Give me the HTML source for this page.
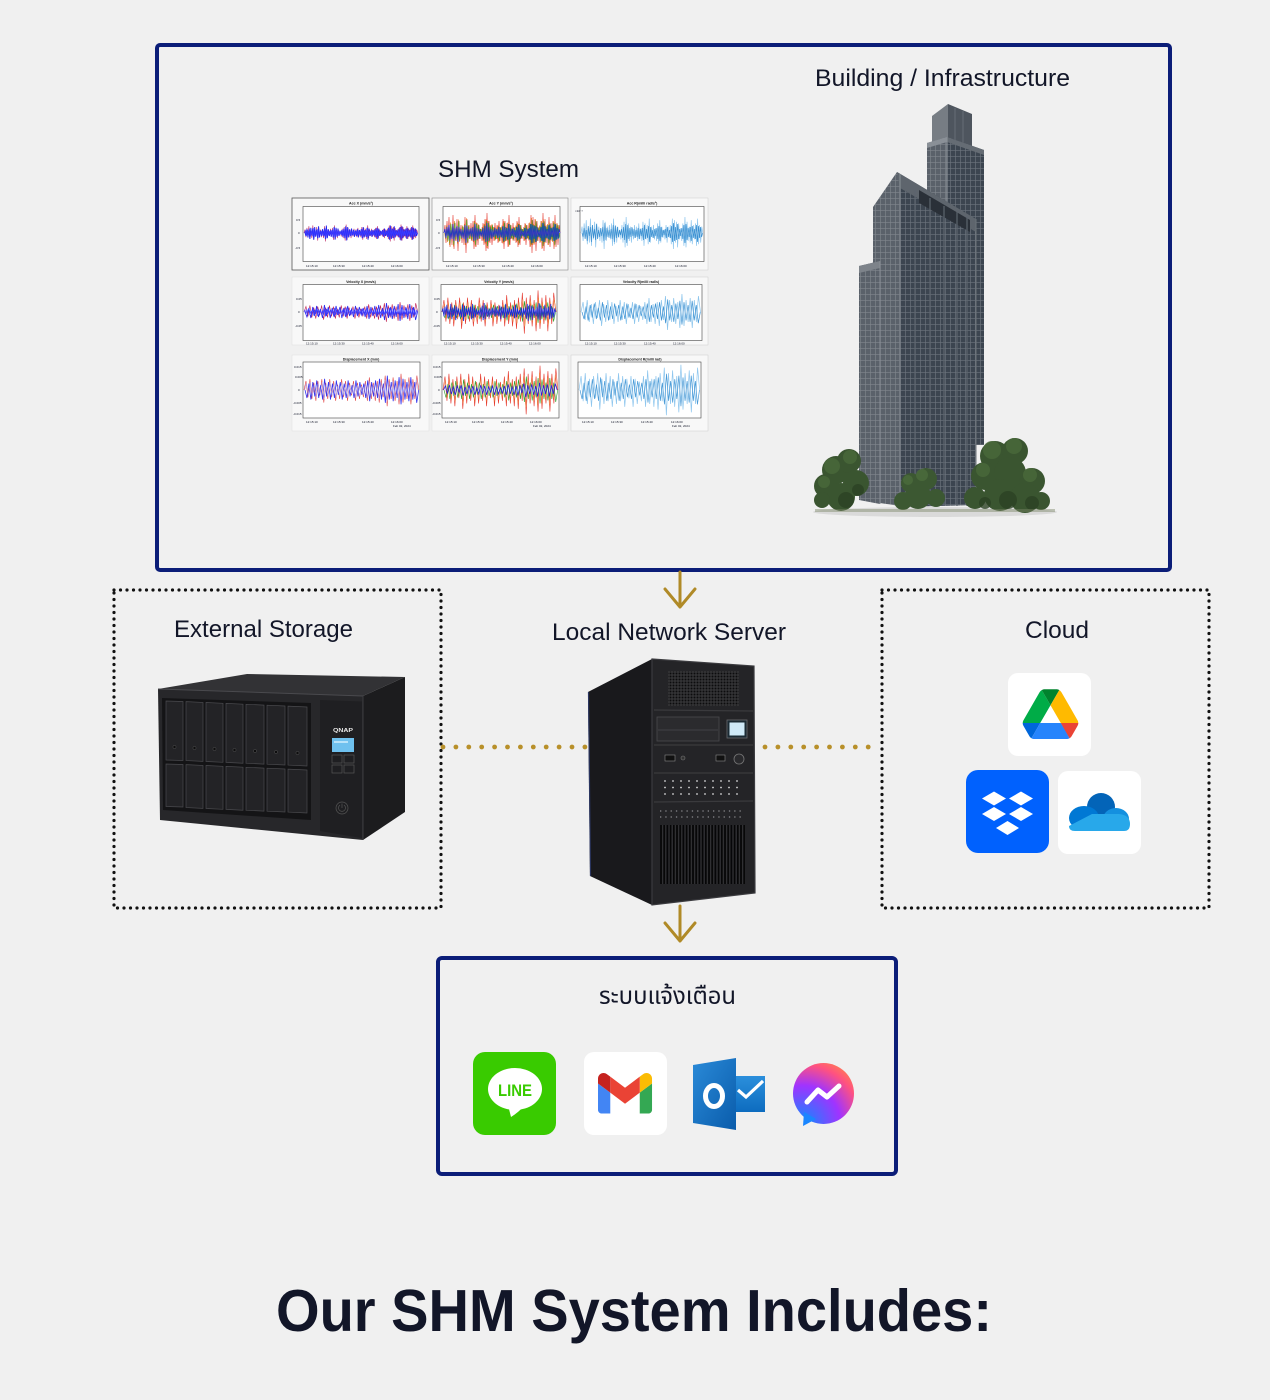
<!DOCTYPE html>
<html><head><meta charset="utf-8"><title>SHM System</title>
<style>
html,body{margin:0;padding:0;background:#f0f0f0;}
svg{display:block}
text{font-family:"Liberation Sans",Arial,sans-serif;fill:#121628}
.th{font-family:"Liberation Sans","Noto Sans Thai","Loma","Garuda","Tlwg Typo","DejaVu Sans",sans-serif}
.t{font-size:3.6px;font-weight:bold;fill:#222;text-anchor:middle}
.k{font-size:3px;fill:#555}
</style></head><body>
<svg width="1270" height="1400" viewBox="0 0 1270 1400" xmlns="http://www.w3.org/2000/svg">
<defs>
<path id="d1" fill="none" vector-effect="non-scaling-stroke" d="M0,0 L1,-4 2,5 3,-6 4,3 5,-8 6,7 7,-3 8,6 9,-9 10,8 11,-5 12,4 13,-7 14,9 15,-6 16,3 17,-4 18,5 19,-3 20,6 21,-8 22,10 23,-7 24,5 25,-4 26,3 27,-5 28,4 29,-6 30,8 31,-9 32,7 33,-5 34,6 35,-4 36,3 37,-2 38,4 39,-5 40,6 41,-7 42,9 43,-10 44,8 45,-6 46,5 47,-4 48,6 49,-3 50,4 51,-5 52,3 53,-4 54,5 55,-6 56,4 57,-3 58,5 59,-7 60,8 61,-6 62,4 63,-5 64,7 65,-9 66,6 67,-4 68,3 69,-5 70,4 71,-3 72,5 73,-6 74,7 75,-8 76,6 77,-4 78,3 79,-2 80,4 81,-5 82,6 83,-4 84,3 85,-5 86,7 87,-9 88,10 89,-8 90,6 91,-7 92,9 93,-6 94,4 95,-3 96,5 97,-6 98,8 99,-10 100,9 101,-7 102,5 103,-4 104,6 105,-8 106,7 107,-5 108,4 109,-6 110,8 111,-9 112,7 113,-5 114,6 115,-4 116,0"/>
<path id="d2" fill="none" vector-effect="non-scaling-stroke" d="M0,0 L2,-5 4,4 6,-6 8,5 10,-4 12,6 14,-5 16,3 18,-6 20,7 22,-4 24,5 26,-6 28,4 30,-5 32,6 34,-3 36,5 38,-6 40,4 42,-5 44,6 46,-4 48,3 50,-5 52,6 54,-4 56,5 58,-3 60,4 62,-5 64,6 66,-7 68,5 70,-4 72,6 74,-5 76,7 78,-6 80,4 82,-8 84,9 86,-6 88,5 90,-7 92,6 94,-5 96,8 98,-9 100,7 102,-6 104,5 106,-7 108,8 110,-6 112,5 114,-8 116,0"/>
<pattern id="win" width="5" height="6" patternUnits="userSpaceOnUse"><rect width="5" height="6" fill="#3c4550"/><path d="M0 0.3H5M0.3 0V6" stroke="#6c747d" stroke-width="0.7"/></pattern>
<pattern id="winL" width="5" height="6" patternUnits="userSpaceOnUse"><rect width="5" height="6" fill="#5a616a"/><path d="M0 0.3H5M0.3 0V6" stroke="#80868d" stroke-width="0.7"/></pattern>
<pattern id="grille" width="3" height="3" patternUnits="userSpaceOnUse"><rect width="3" height="3" fill="#3d3d40"/><rect x="0.5" y="0.5" width="2" height="2" fill="#0c0c0d"/></pattern>
<pattern id="vent" width="3.2" height="80" patternUnits="userSpaceOnUse"><rect width="3.2" height="80" fill="#303033"/><rect x="0.9" width="1.8" height="80" fill="#060607"/></pattern>
<radialGradient id="msg" cx="0.15" cy="1" r="1.15"><stop offset="0" stop-color="#0a8dff"/><stop offset="0.55" stop-color="#a033ff"/><stop offset="0.85" stop-color="#ff5280"/><stop offset="1" stop-color="#ff7a55"/></radialGradient>
<linearGradient id="ol" x1="0" y1="0" x2="1" y2="1"><stop offset="0" stop-color="#2a8ad8"/><stop offset="1" stop-color="#0a5cab"/></linearGradient>
<linearGradient id="olb" x1="0" y1="0" x2="0" y2="1"><stop offset="0" stop-color="#2b8fdc"/><stop offset="1" stop-color="#0d6cbf"/></linearGradient>
</defs>
<rect width="1270" height="1400" fill="#f0f0f0"/>

<!-- Top box -->
<rect x="157" y="45" width="1013" height="525" rx="3" fill="none" stroke="#0b1d78" stroke-width="4"/>
<text x="815" y="86" font-size="24.5" textLength="255" lengthAdjust="spacingAndGlyphs">Building / Infrastructure</text>
<text x="438" y="177" font-size="24.5" textLength="141" lengthAdjust="spacingAndGlyphs">SHM System</text>

<!-- Charts -->
<g>
<rect x="292" y="198" width="137" height="72" fill="#f8f8f8" stroke="#555" stroke-width="0.8"/>
<rect x="432" y="198" width="136" height="72" fill="#f8f8f8" stroke="#888" stroke-width="0.6"/>
<rect x="571" y="198" width="137" height="72" fill="#f8f8f8" stroke="#ccc" stroke-width="0.5"/>
<rect x="292" y="277" width="137" height="68" fill="#f8f8f8" stroke="#ddd" stroke-width="0.5"/>
<rect x="432" y="277" width="136" height="68" fill="#f8f8f8" stroke="#ddd" stroke-width="0.5"/>
<rect x="571" y="277" width="137" height="68" fill="#f8f8f8" stroke="#ccc" stroke-width="0.5"/>
<rect x="292" y="355" width="137" height="76" fill="#f8f8f8" stroke="#ddd" stroke-width="0.5"/>
<rect x="432" y="355" width="136" height="76" fill="#f8f8f8" stroke="#ddd" stroke-width="0.5"/>
<rect x="571" y="355" width="137" height="76" fill="#f8f8f8" stroke="#ccc" stroke-width="0.5"/>

<rect x="303" y="206.5" width="116" height="55" fill="#fff" stroke="#444" stroke-width="0.6"/>
<rect x="443" y="206.5" width="117" height="55" fill="#fff" stroke="#444" stroke-width="0.6"/>
<rect x="580" y="206.5" width="124" height="55" fill="#fff" stroke="#444" stroke-width="0.6"/>
<rect x="303" y="284.5" width="116" height="56" fill="#fff" stroke="#444" stroke-width="0.6"/>
<rect x="441" y="284.5" width="116" height="56" fill="#fff" stroke="#444" stroke-width="0.6"/>
<rect x="580" y="284.5" width="122" height="56" fill="#fff" stroke="#444" stroke-width="0.6"/>
<rect x="303" y="362" width="117" height="56" fill="#fff" stroke="#444" stroke-width="0.6"/>
<rect x="442" y="362" width="117" height="56" fill="#fff" stroke="#444" stroke-width="0.6"/>
<rect x="578" y="362" width="123" height="56" fill="#fff" stroke="#444" stroke-width="0.6"/>

<text class="t" x="361" y="204.5">Acc X (mm/s²)</text>
<text class="t" x="501" y="204.5">Acc Y (mm/s²)</text>
<text class="t" x="642" y="204.5">Acc R(milli rad/s²)</text>
<text class="t" x="361" y="282.8">Velocity X (mm/s)</text>
<text class="t" x="499" y="282.8">Velocity Y (mm/s)</text>
<text class="t" x="641" y="282.8">Velocity R(milli rad/s)</text>
<text class="t" x="361" y="360.3">Displacement X (mm)</text>
<text class="t" x="500" y="360.3">Displacement Y (mm)</text>
<text class="t" x="640" y="360.3">Displacement R(milli rad)</text>

<!-- waves row1 -->
<use href="#d1" transform="translate(304,233) scale(0.98,0.85)" stroke="#c0306a" stroke-width="0.6"/>
<use href="#d1" transform="translate(305,233) scale(0.97,-0.75)" stroke="#2424ee" stroke-width="0.9"/>
<use href="#d1" transform="translate(304.5,233) scale(0.97,0.55)" stroke="#3a3aff" stroke-width="0.8"/>

<use href="#d1" transform="translate(444,233) scale(1,2.0)" stroke="#e5392f" stroke-width="0.6"/>
<use href="#d1" transform="translate(444.5,233) scale(0.99,-1.5)" stroke="#f08a2a" stroke-width="0.5"/>
<use href="#d1" transform="translate(445,233) scale(0.99,-1.3)" stroke="#2ca02c" stroke-width="0.6"/>
<use href="#d1" transform="translate(444,233) scale(1,1.0)" stroke="#1f28d8" stroke-width="0.8"/>

<use href="#d1" transform="translate(581,233) scale(1.05,1.6)" stroke="#8ec6ee" stroke-width="0.7"/>
<use href="#d1" transform="translate(582,233) scale(1.04,-1.0)" stroke="#3a8fd0" stroke-width="0.7"/>

<!-- waves row2 -->
<use href="#d2" transform="translate(304,312) scale(0.98,1.1)" stroke="#c02050" stroke-width="0.6"/>
<use href="#d2" transform="translate(305,312) scale(0.97,-1)" stroke="#2a2af0" stroke-width="0.8"/>
<use href="#d1" transform="translate(304,312) scale(0.98,0.45)" stroke="#3b3bff" stroke-width="0.7"/>

<use href="#d2" transform="translate(442,312) scale(0.98,2.4)" stroke="#e5392f" stroke-width="0.6"/>
<use href="#d2" transform="translate(442.5,312) scale(0.98,1.6)" stroke="#ef7b2b" stroke-width="0.5"/>
<use href="#d2" transform="translate(443,312) scale(0.97,-1.2)" stroke="#2ca02c" stroke-width="0.6"/>
<use href="#d1" transform="translate(442,312) scale(0.98,0.9)" stroke="#1f28d8" stroke-width="0.8"/>

<use href="#d2" transform="translate(581,312) scale(1.03,2.0)" stroke="#8cc5ec" stroke-width="0.7"/>
<use href="#d2" transform="translate(582,312) scale(1.02,-1.4)" stroke="#3f93d3" stroke-width="0.7"/>

<!-- waves row3 -->
<use href="#d2" transform="translate(304,390) scale(0.99,1.8)" stroke="#e04444" stroke-width="0.6"/>
<use href="#d2" transform="translate(305,390) scale(0.98,-1.6)" stroke="#3535ee" stroke-width="0.8"/>
<use href="#d2" transform="translate(304.5,390) scale(0.98,1.3)" stroke="#b4a0e0" stroke-width="0.6"/>

<use href="#d2" transform="translate(443,390) scale(0.99,2.7)" stroke="#e5392f" stroke-width="0.6"/>
<use href="#d2" transform="translate(444,390) scale(0.98,-1.5)" stroke="#2ca02c" stroke-width="0.6"/>
<use href="#d2" transform="translate(443.5,390) scale(0.98,1.9)" stroke="#ef7b2b" stroke-width="0.4"/>
<use href="#d2" transform="translate(443.5,390) scale(0.98,0.8)" stroke="#2323e0" stroke-width="0.8"/>

<use href="#d2" transform="translate(579,390) scale(1.04,2.8)" stroke="#8ec6ee" stroke-width="0.7"/>
<use href="#d2" transform="translate(580,390) scale(1.03,-1.8)" stroke="#4a9ad6" stroke-width="0.7"/>

<!-- tick labels -->
<g class="k">
<text x="296" y="221">0.5</text><text x="298" y="234">0</text><text x="295" y="249">-0.5</text>
<text x="436" y="221">0.5</text><text x="438" y="234">0</text><text x="435" y="249">-0.5</text>
<text x="575" y="212">×10⁻³</text>
<text x="296" y="300">0.05</text><text x="298" y="313">0</text><text x="295" y="327">-0.05</text>
<text x="434" y="300">0.05</text><text x="436" y="313">0</text><text x="433" y="327">-0.05</text>
<text x="294" y="368">0.015</text><text x="295" y="378">0.005</text><text x="298" y="391">0</text><text x="293" y="404">-0.005</text><text x="293" y="415">-0.015</text>
<text x="433" y="368">0.015</text><text x="434" y="378">0.005</text><text x="438" y="391">0</text><text x="432" y="404">-0.005</text><text x="432" y="415">-0.015</text>
<text x="306" y="267">12:15:10</text><text x="333" y="267">12:15:30</text><text x="362" y="267">12:15:40</text><text x="391" y="267">12:16:00</text>
<text x="446" y="267">12:15:10</text><text x="473" y="267">12:15:30</text><text x="502" y="267">12:15:40</text><text x="531" y="267">12:16:00</text>
<text x="585" y="267">12:15:10</text><text x="614" y="267">12:15:30</text><text x="644" y="267">12:15:40</text><text x="675" y="267">12:16:00</text>
<text x="306" y="344.5">12:15:10</text><text x="333" y="344.5">12:15:30</text><text x="362" y="344.5">12:15:40</text><text x="391" y="344.5">12:16:00</text>
<text x="444" y="344.5">12:15:10</text><text x="471" y="344.5">12:15:30</text><text x="500" y="344.5">12:15:40</text><text x="529" y="344.5">12:16:00</text>
<text x="585" y="344.5">12:15:10</text><text x="614" y="344.5">12:15:30</text><text x="644" y="344.5">12:15:40</text><text x="673" y="344.5">12:16:00</text>
<text x="306" y="423">12:15:10</text><text x="333" y="423">12:15:30</text><text x="362" y="423">12:15:40</text><text x="391" y="423">12:16:00</text><text x="393" y="427">Feb 02, 2024</text>
<text x="445" y="423">12:15:10</text><text x="472" y="423">12:15:30</text><text x="501" y="423">12:15:40</text><text x="530" y="423">12:16:00</text><text x="533" y="427">Feb 02, 2024</text>
<text x="582" y="423">12:15:10</text><text x="611" y="423">12:15:30</text><text x="641" y="423">12:15:40</text><text x="671" y="423">12:16:00</text><text x="672" y="427">Feb 02, 2024</text>
</g>
</g>

<!-- Building -->
<g>
<ellipse cx="935" cy="512" rx="122" ry="5" fill="#dadada"/>
<!-- spire cap -->
<polygon points="932,116 948,104 948,146 932,150" fill="#777d84"/>
<polygon points="948,104 972,114 972,152 948,146" fill="#4e555e"/>
<line x1="955" y1="108" x2="955" y2="148" stroke="#666d75" stroke-width="1"/>
<line x1="963" y1="111" x2="963" y2="150" stroke="#666d75" stroke-width="1"/>
<!-- spire body -->
<polygon points="927,143 947,137 947,445 927,445" fill="url(#winL)"/>
<polygon points="947,137 984,150 984,445 947,445" fill="url(#win)"/>
<polygon points="927,143 947,137 947,142 927,148" fill="#8a9097"/>
<polygon points="947,137 984,150 984,155 947,142" fill="#656c74"/>
<line x1="947" y1="137" x2="947" y2="445" stroke="#8a9097" stroke-width="1.2"/>
<!-- main block -->
<polygon points="873,207 897,172 900,174 900,506 873,502" fill="url(#winL)"/>
<polygon points="897,172 976,219 976,505 900,507 900,174" fill="url(#win)"/>
<polygon points="897,172 976,219 976,232 900,188" fill="#5e656d"/>
<polygon points="919,190 970,220 970,232 919,203" fill="#2a3038"/>
<line x1="900" y1="174" x2="900" y2="507" stroke="#7c838a" stroke-width="1.5"/>
<g stroke="#5d656e" stroke-width="1.2">
<line x1="915" y1="190" x2="915" y2="506"/><line x1="930" y1="198" x2="930" y2="506"/><line x1="944" y1="206" x2="944" y2="506"/><line x1="957" y1="212" x2="957" y2="506"/><line x1="967" y1="216" x2="967" y2="506"/>
</g>
<line x1="976" y1="219" x2="976" y2="505" stroke="#6b7279" stroke-width="1"/>
<!-- wing -->
<polygon points="859,266 880,261 880,504 859,500" fill="url(#winL)"/>
<polygon points="859,266 880,261 880,268 859,273" fill="#7d838a"/>
<line x1="880" y1="261" x2="880" y2="504" stroke="#8a9097" stroke-width="1"/>
<!-- trees left -->
<g fill="#3a5530">
<circle cx="836" cy="470" r="14"/><circle cx="849" cy="461" r="12"/><circle cx="826" cy="486" r="12"/><circle cx="856" cy="483" r="13"/><circle cx="841" cy="497" r="14"/><circle cx="822" cy="500" r="8"/>
</g>
<g fill="#4a6a3a" opacity="0.8"><circle cx="832" cy="466" r="8"/><circle cx="850" cy="457" r="7"/><circle cx="824" cy="482" r="6"/></g>
<g fill="#2c4224" opacity="0.8"><circle cx="846" cy="500" r="8"/><circle cx="858" cy="490" r="6"/></g>
<!-- trees middle -->
<g fill="#3c5832"><circle cx="911" cy="483" r="10"/><circle cx="926" cy="479" r="11"/><circle cx="918" cy="496" r="13"/><circle cx="903" cy="501" r="9"/><circle cx="936" cy="498" r="9"/></g>
<g fill="#4c6c3c" opacity="0.8"><circle cx="922" cy="475" r="6"/><circle cx="908" cy="480" r="5"/></g>
<!-- trees right -->
<g fill="#3a5530"><circle cx="995" cy="456" r="15"/><circle cx="1015" cy="451" r="13"/><circle cx="985" cy="476" r="14"/><circle cx="1010" cy="473" r="16"/><circle cx="1032" cy="481" r="13"/><circle cx="1000" cy="495" r="16"/><circle cx="1025" cy="498" r="15"/><circle cx="975" cy="498" r="11"/><circle cx="1041" cy="501" r="9"/></g>
<g fill="#4a6a3a" opacity="0.8"><circle cx="992" cy="450" r="9"/><circle cx="1014" cy="446" r="8"/><circle cx="983" cy="470" r="7"/><circle cx="1030" cy="475" r="7"/></g>
<g fill="#2c4224" opacity="0.8"><circle cx="1008" cy="500" r="9"/><circle cx="1032" cy="503" r="7"/><circle cx="985" cy="503" r="6"/></g>
<rect x="815" y="509" width="240" height="3" fill="#7a8466" opacity="0.45"/>
</g>

<!-- Arrows -->
<path d="M680,572 V607 M665,589 L680,607 L695,589" fill="none" stroke="#b08a27" stroke-width="3" stroke-linecap="round" stroke-linejoin="round"/>
<path d="M680,906 V941 M665,923 L680,941 L695,923" fill="none" stroke="#b08a27" stroke-width="3" stroke-linecap="round" stroke-linejoin="round"/>

<!-- Dotted boxes -->
<rect x="114" y="590" width="327" height="318" fill="none" stroke="#111" stroke-width="3.2" stroke-dasharray="0 6.5" stroke-linecap="round"/>
<rect x="882" y="590" width="327" height="318" fill="none" stroke="#111" stroke-width="3.2" stroke-dasharray="0 6.5" stroke-linecap="round"/>
<text x="174" y="637" font-size="24.5" textLength="179" lengthAdjust="spacingAndGlyphs">External Storage</text>
<text x="552" y="640" font-size="24.5" textLength="234" lengthAdjust="spacingAndGlyphs">Local Network Server</text>
<text x="1025" y="638" font-size="24.5" textLength="64" lengthAdjust="spacingAndGlyphs">Cloud</text>

<!-- gold dotted connectors -->
<line x1="443" y1="747" x2="586" y2="747" stroke="#b8902a" stroke-width="4.8" stroke-dasharray="0 12.9" stroke-linecap="round"/>
<line x1="765" y1="747" x2="881" y2="747" stroke="#b8902a" stroke-width="4.8" stroke-dasharray="0 12.9" stroke-linecap="round"/>

<!-- NAS -->
<g>
<polygon points="158,689 247,674 405,677 363,696" fill="#323235"/>
<polygon points="363,696 405,677 405,812 363,840" fill="#1c1c1e"/>
<polygon points="158,689 363,696 363,840 160,820" fill="#27272a"/>
<line x1="158" y1="689" x2="363" y2="696" stroke="#4a4a4e" stroke-width="1"/>
<line x1="363" y1="696" x2="363" y2="840" stroke="#3c3c40" stroke-width="1"/>
<polygon points="162,698 311,703 311,820 163,810" fill="#141416"/>
<g fill="#232326" stroke="#4a4a4e" stroke-width="0.7">
<polygon points="166,701 183,701.5 183,760.5 166,760"/>
<polygon points="186,701.6 203,702.4 203,761.4 186,760.6"/>
<polygon points="206,702.5 223,703.3 223,762.3 206,761.5"/>
<polygon points="226,703.4 243,704.2 243,763.2 226,762.4"/>
<polygon points="246,704.3 264,705.1 264,764.1 246,763.3"/>
<polygon points="267,705.2 285,706 285,765 267,764.2"/>
<polygon points="288,706.1 307,707 307,766 288,765.1"/>
<polygon points="166,764 183,764.5 183,807 166,806.5"/>
<polygon points="186,764.6 203,765.4 203,808.4 186,807.6"/>
<polygon points="206,765.5 223,766.3 223,809.3 206,808.5"/>
<polygon points="226,766.4 243,767.2 243,810.2 226,809.4"/>
<polygon points="246,767.3 264,768.1 264,811.1 246,810.3"/>
<polygon points="267,768.2 285,769 285,812 267,811.2"/>
<polygon points="288,769.1 307,770 307,813 288,812.1"/>
</g>
<g fill="#0d0d0e" stroke="#555" stroke-width="0.5">
<circle cx="174.5" cy="747" r="1.6"/><circle cx="194.5" cy="748" r="1.6"/><circle cx="214.5" cy="749" r="1.6"/><circle cx="234.5" cy="750" r="1.6"/><circle cx="255" cy="751" r="1.6"/><circle cx="276" cy="752" r="1.6"/><circle cx="297.5" cy="753" r="1.6"/>
</g>
<polygon points="320,700 362,701.5 362,838 320,831" fill="#1f1f22"/>
<text x="333" y="732" font-size="5.5" font-weight="bold" style="fill:#e8e8e8" textLength="20" lengthAdjust="spacingAndGlyphs">QNAP</text>
<rect x="332" y="738" width="22" height="14" fill="#6fc1ef"/>
<rect x="334" y="741" width="14" height="2" fill="#b8e3fa"/>
<g fill="none" stroke="#555" stroke-width="0.7">
<rect x="332" y="755" width="10" height="8"/><rect x="344" y="755" width="10" height="8"/><rect x="332" y="765" width="10" height="8"/><rect x="344" y="765" width="10" height="8"/>
<circle cx="342" cy="808" r="6"/>
<path d="M340,805 A3.5,3.5 0 1 0 344,805 M342,803.5 V808"/>
</g>
</g>

<!-- Server -->
<g>
<polygon points="588,692 652,659 652,905 590,876" fill="#19191c"/>
<line x1="588.5" y1="692" x2="590.5" y2="876" stroke="#2a3560" stroke-width="1.2"/>
<polygon points="652,659 754,666 755,893 652,905" fill="#242427"/>
<polygon points="652,659 754,666 755,893 652,905" fill="none" stroke="#3b3b3f" stroke-width="1.2"/>
<rect x="668" y="671" width="71" height="35" fill="url(#grille)"/>
<g stroke="#3a3a3d" stroke-width="1.2">
<line x1="654" y1="710" x2="753" y2="711"/><line x1="654" y1="745" x2="753" y2="745"/><line x1="654" y1="773" x2="753" y2="773"/><line x1="654" y1="802" x2="753" y2="801"/>
</g>
<rect x="657" y="717" width="62" height="24" fill="#2b2b2e" stroke="#4a4a4e" stroke-width="0.8"/>
<line x1="658" y1="730" x2="718" y2="730" stroke="#4a4a4e" stroke-width="0.8"/>
<rect x="727" y="720" width="20" height="18" fill="#1b2a33" stroke="#6a6a6e" stroke-width="0.8"/>
<rect x="729.5" y="722.5" width="15" height="13" fill="#cfe9f7"/>
<rect x="665" y="755" width="10" height="6" fill="#111" stroke="#888" stroke-width="0.6"/>
<circle cx="683" cy="758" r="2" fill="#333" stroke="#777" stroke-width="0.6"/>
<rect x="716" y="755" width="9" height="6" fill="#111" stroke="#888" stroke-width="0.6"/>
<circle cx="739" cy="759" r="5" fill="#2a2a2d" stroke="#777" stroke-width="0.8"/>
<g fill="#d8d8d8">
<circle cx="665" cy="781" r="0.9"/><circle cx="673" cy="781" r="0.9"/><circle cx="681" cy="781" r="0.9"/><circle cx="689" cy="781" r="0.9"/><circle cx="697" cy="781" r="0.9"/><circle cx="705" cy="781" r="0.9"/><circle cx="713" cy="781" r="0.9"/><circle cx="721" cy="781" r="0.9"/><circle cx="729" cy="781" r="0.9"/><circle cx="737" cy="781" r="0.9"/>
<circle cx="665" cy="787.5" r="0.9"/><circle cx="673" cy="787.5" r="0.9"/><circle cx="681" cy="787.5" r="0.9"/><circle cx="689" cy="787.5" r="0.9"/><circle cx="697" cy="787.5" r="0.9"/><circle cx="705" cy="787.5" r="0.9"/><circle cx="713" cy="787.5" r="0.9"/><circle cx="721" cy="787.5" r="0.9"/><circle cx="729" cy="787.5" r="0.9"/><circle cx="737" cy="787.5" r="0.9"/>
<circle cx="665" cy="794" r="0.9"/><circle cx="673" cy="794" r="0.9"/><circle cx="681" cy="794" r="0.9"/><circle cx="689" cy="794" r="0.9"/><circle cx="697" cy="794" r="0.9"/><circle cx="705" cy="794" r="0.9"/><circle cx="713" cy="794" r="0.9"/><circle cx="721" cy="794" r="0.9"/><circle cx="729" cy="794" r="0.9"/><circle cx="737" cy="794" r="0.9"/>
</g>
<line x1="660" y1="811" x2="744" y2="811" stroke="#8a8a8e" stroke-width="1.3" stroke-dasharray="1.3 4"/>
<line x1="660" y1="817" x2="744" y2="817" stroke="#8a8a8e" stroke-width="1.3" stroke-dasharray="1.3 4"/>
<rect x="660" y="825" width="85" height="59" fill="url(#vent)"/>
</g>

<!-- Cloud icons -->
<rect x="1008" y="673" width="83" height="83" rx="10" fill="#ffffff"/>
<g transform="translate(1022.7,689.3) scale(0.637)">
<path d="m6.6 66.85 3.850 6.65c.8 1.4 1.950 2.5 3.3 3.3l13.75-23.8h-27.5c0 1.55.4 3.1 1.2 4.5z" fill="#0066da"/>
<path d="m43.65 25-13.75-23.8c-1.35.8-2.5 1.9-3.3 3.3l-25.4 44a9.06 9.06 0 0 0 -1.2 4.5h27.5z" fill="#00ac47"/>
<path d="m73.55 76.8c1.35-.8 2.5-1.9 3.3-3.3l1.6-2.75 7.65-13.25c.8-1.4 1.2-2.95 1.2-4.5h-27.502l5.852 11.5z" fill="#ea4335"/>
<path d="m43.65 25 13.75-23.8c-1.35-.8-2.9-1.2-4.5-1.2h-18.5c-1.6 0-3.15.45-4.5 1.2z" fill="#00832d"/>
<path d="m59.8 53h-32.3l-13.75 23.8c1.35.8 2.9 1.2 4.5 1.2h50.8c1.6 0 3.15-.45 4.5-1.2z" fill="#2684fc"/>
<path d="m73.4 26.5-12.7-22c-.8-1.4-1.95-2.5-3.3-3.3l-13.75 23.8 16.15 28h27.45c0-1.55-.4-3.1-1.2-4.5z" fill="#ffba00"/>
</g>
<rect x="966" y="770" width="83" height="83" rx="12" fill="#0061fe"/>
<g fill="#ffffff">
<polygon points="982,798.5 994,791.5 1006,798.5 994,805.5"/>
<polygon points="1009,798.5 1021,791.5 1033,798.5 1021,805.5"/>
<polygon points="982,814 994,807 1006,814 994,821"/>
<polygon points="1009,814 1021,807 1033,814 1021,821"/>
<polygon points="996,828 1007.5,821 1019,828 1007.5,835"/>
</g>
<rect x="1058" y="771" width="83" height="83" rx="10" fill="#ffffff"/>
<circle cx="1101" cy="807" r="14" fill="#0364b8"/>
<ellipse cx="1084" cy="818" rx="15" ry="12" fill="#0078d4"/>
<ellipse cx="1116" cy="819" rx="13" ry="11" fill="#1490df"/>
<path d="M1069,826 Q1069,831 1075,831 L1124,831 Q1130,831 1130,824 Q1130,815 1119,814 L1092,814 Z" fill="#28a8ea"/>

<!-- Notification box -->
<rect x="438" y="958" width="458" height="216" rx="4" fill="none" stroke="#0b1d78" stroke-width="4"/>
<text class="th" x="599" y="1004" font-size="24" textLength="137" lengthAdjust="spacingAndGlyphs">ระบบแจ้งเตือน</text>

<!-- LINE -->
<rect x="473" y="1052" width="83" height="83" rx="12" fill="#39cb00"/>
<ellipse cx="515" cy="1089" rx="27" ry="21" fill="#ffffff"/>
<path d="M508,1105 L511,1117 Q519,1112 525,1105 Z" fill="#ffffff"/>
<text x="515" y="1096" font-size="17" font-weight="bold" text-anchor="middle" style="fill:#39cb00" textLength="34" lengthAdjust="spacingAndGlyphs">LINE</text>

<!-- Gmail -->
<rect x="584" y="1052" width="83" height="83" rx="10" fill="#ffffff"/>
<g transform="translate(598,1073) scale(0.614) translate(-52,-42)">
<path fill="#4285f4" d="M58 108h14V74L52 59v43c0 3.32 2.69 6 6 6"/>
<path fill="#34a853" d="M120 108h14c3.32 0 6-2.69 6-6V59l-20 15"/>
<path fill="#fbbc04" d="M120 48v26l20-15v-8c0-7.42-8.47-11.65-14.4-7.2"/>
<path fill="#ea4335" d="M72 74V48l24 18 24-18v26L96 92"/>
<path fill="#c5221f" d="M52 51v8l20 15V48l-5.6-4.2c-5.94-4.45-14.4-.22-14.4 7.2"/>
</g>

<!-- Outlook -->
<rect x="735" y="1076" width="30" height="36" fill="url(#olb)"/>
<path d="M738,1090 L746,1097 L763,1081" fill="none" stroke="#ffffff" stroke-width="3.2" stroke-linejoin="miter"/>
<polygon points="693,1065 736,1058 736,1130 693,1123" fill="url(#ol)"/>
<ellipse cx="714" cy="1096" rx="8.5" ry="10.5" fill="none" stroke="#ffffff" stroke-width="5"/>

<!-- Messenger -->
<circle cx="823.5" cy="1093.5" r="30.5" fill="url(#msg)"/>
<path d="M804,1112 L803,1126 L816,1119 Z" fill="#1a86ff"/>
<polyline points="807,1102 818,1090 827,1097 839,1086" fill="none" stroke="#ffffff" stroke-width="5" stroke-linejoin="round" stroke-linecap="round"/>

<!-- Bottom title -->
<text x="276" y="1331" font-size="59" font-weight="bold" textLength="716" lengthAdjust="spacingAndGlyphs">Our SHM System Includes:</text>
</svg>
</body></html>
